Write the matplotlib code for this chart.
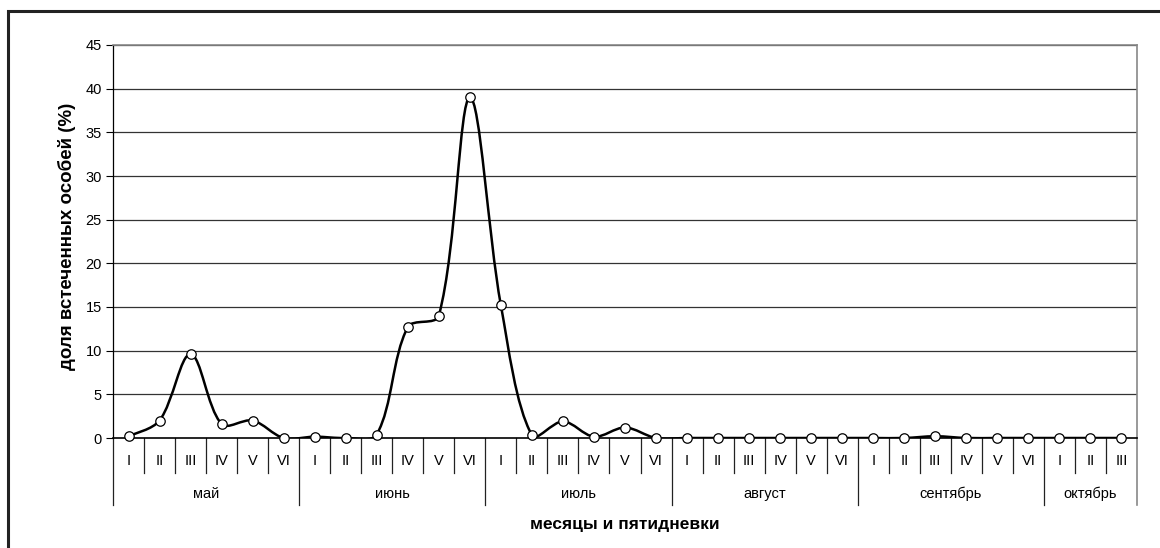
import matplotlib
matplotlib.use('Agg')
import matplotlib.pyplot as plt
from matplotlib.path import Path
from matplotlib.patches import PathPatch, Rectangle
import matplotlib.transforms as mtransforms
import numpy as np

# ---- data ----
months = ['май', 'июнь', 'июль', 'август', 'сентябрь', 'октябрь']
pentads_per_month = [6, 6, 6, 6, 6, 3]
roman = ['I', 'II', 'III', 'IV', 'V', 'VI']
values = [0.2, 2.0, 9.6, 1.6, 2.0, 0.0,
          0.15, 0.0, 0.4, 12.7, 14.0, 39.0,
          15.2, 0.3, 1.9, 0.15, 1.2, 0.0,
          0.0, 0.0, 0.0, 0.0, 0.0, 0.0,
          0.0, 0.0, 0.2, 0.0, 0.0, 0.0,
          0.0, 0.0, 0.0]
y_ticks = [0, 5, 10, 15, 20, 25, 30, 35, 40, 45]
y_label = 'доля встеченных особей (%)'
x_label = 'месяцы и пятидневки'

plt.rcParams['font.family'] = ['Liberation Sans', 'DejaVu Sans']

W, H = 1160, 548
fig = plt.figure(figsize=(W / 100, H / 100), dpi=100)
left, right, top, bottom = 113, 1137, 45, 438
ax = fig.add_axes([left / W, 1 - bottom / H, (right - left) / W, (bottom - top) / H])

n = len(values)
ax.set_xlim(0, n)
ax.set_ylim(0, 45)
xs = np.arange(n) + 0.5
ys = np.array(values, dtype=float)

# smoothed line (chord-weighted Catmull-Rom bezier in screen space, Excel-like)
Pd = np.column_stack([xs, ys])
Ps = ax.transData.transform(Pd)
Pext = np.vstack([Ps[0], Ps, Ps[-1]])
seg = np.linalg.norm(np.diff(Ps, axis=0), axis=1)
verts = [tuple(Ps[0])]
codes = [Path.MOVETO]
for i in range(n - 1):
    p0, p1, p2, p3 = Pext[i], Pext[i + 1], Pext[i + 2], Pext[i + 3]
    d_cur = seg[i]
    d_prev = seg[i - 1] if i > 0 else d_cur
    d_next = seg[i + 1] if i < n - 2 else d_cur
    w1 = d_cur / (d_prev + d_cur) if (d_prev + d_cur) > 0 else 0.5
    w2 = d_cur / (d_cur + d_next) if (d_cur + d_next) > 0 else 0.5
    c1 = p1 + (p2 - p0) * w1 / 3.0
    c2 = p2 - (p3 - p1) * w2 / 3.0
    verts += [tuple(c1), tuple(c2), tuple(p2)]
    codes += [Path.CURVE4] * 3
verts_d = ax.transData.inverted().transform(np.array(verts))
ax.add_patch(PathPatch(Path(verts_d, codes), fill=False, edgecolor='black',
                       lw=1.8, zorder=3, joinstyle='round'))
ax.plot(xs, ys, linestyle='none', marker='o', markersize=6.8,
        markerfacecolor='white', markeredgecolor='black', markeredgewidth=0.9,
        zorder=4, clip_on=False)

ax.set_yticks(y_ticks)
ax.set_yticklabels([str(t) for t in y_ticks], fontsize=10.5)
ax.tick_params(axis='y', length=5, width=0.8, color='black', pad=3)
ax.set_xticks([])
for t in y_ticks[1:]:
    ax.axhline(t, color='#333333', lw=0.9, zorder=1)

for s in ['top', 'right']:
    ax.spines[s].set_color('#888888')
    ax.spines[s].set_linewidth(1.2)
ax.spines['left'].set_color('black')
ax.spines['left'].set_linewidth(0.9)
ax.spines['bottom'].set_color('black')
ax.spines['bottom'].set_linewidth(1.2)

ah = bottom - top
trans = mtransforms.blended_transform_factory(ax.transData, ax.transAxes)
short = -35 / ah
long_ = -67 / ah
ends = [sum(pentads_per_month[:j + 1]) for j in range(len(months))]
idx = 0
bounds = [0]
for m, cnt in zip(months, pentads_per_month):
    for k in range(cnt):
        ax.text(idx + 0.5, -23 / ah, roman[k], transform=trans, ha='center',
                va='center', fontsize=10.5)
        idx += 1
        if idx not in ends:
            ax.plot([idx, idx], [0, short], transform=trans, color='#222222',
                    lw=0.9, clip_on=False)
    bounds.append(idx)
for j, m in enumerate(months):
    ax.text((bounds[j] + bounds[j + 1]) / 2, -56 / ah, m, transform=trans,
            ha='center', va='center', fontsize=10.5)
for b in bounds:
    col = '#888888' if b == n else '#222222'
    ax.plot([b, b], [0, long_], transform=trans, color=col,
            lw=1.2 if b == n else 0.9, clip_on=False)

ax.text(0.5, -87 / ah, x_label, transform=ax.transAxes, ha='center',
        va='center', fontsize=12.5, fontweight='bold')
fig.text(67 / W, 1 - 236 / H, y_label, rotation=90, ha='center',
         va='center', fontsize=13.5, fontweight='bold')

# outer frame
fig.add_artist(Rectangle((8 / W, -0.1), 1.2, 1 - 11 / H + 0.1,
                         transform=fig.transFigure, fill=False, lw=2.2,
                         edgecolor='#222222'))

fig.savefig('out.png', dpi=100)
